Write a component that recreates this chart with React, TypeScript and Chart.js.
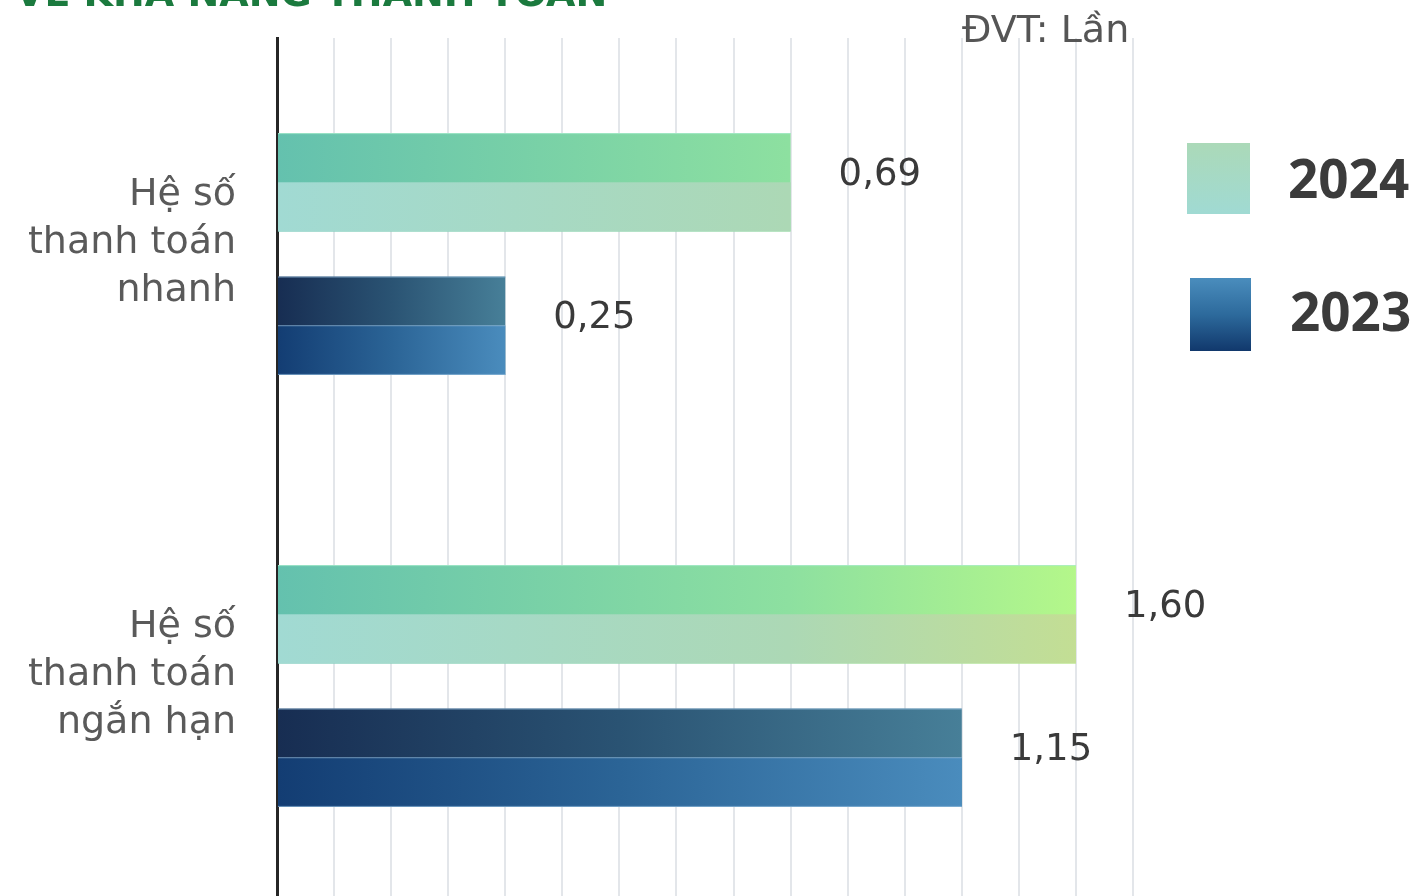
import React, { useEffect, useRef } from "react";
import { Chart, registerables } from "chart.js";

Chart.register(...registerables);

// ---- data ----
const categories: string[][] = [
  ["Hệ số", "thanh toán", "nhanh"],
  ["Hệ số", "thanh toán", "ngắn hạn"],
];
const seriesNames = ["2024", "2023"];
const values2024 = [0.69, 1.6];
const values2023 = [0.25, 1.15];
// bar lengths as drawn in the infographic (grid units – the picture is not to scale)
const barLength2024 = [9, 14];
const barLength2023 = [4, 12];
const gridMax = 15;
const unitLabel = "ĐVT: Lần";
const titleText = "VỀ KHẢ NĂNG THANH TOÁN";

// ---- styles ----
const top2024Stops: [number, string][] = [[0, "#64c1ae"], [0.64, "#8de0a0"], [1, "#b4f78a"]];
const bottom2024Stops: [number, string][] = [[0, "#a1dad3"], [0.64, "#acd8b5"], [1, "#c3de94"]];
const top2023Stops: [number, string][] = [[0, "#172d52"], [0.5, "#2a5373"], [1, "#477f98"]];
const bottom2023Stops: [number, string][] = [[0, "#133d73"], [0.5, "#2b6496"], [1, "#4a8cbd"]];

const FONT = "'DejaVu Sans', sans-serif";

function fmt(v: number) {
  return v.toFixed(2).replace(".", ",");
}

function grad(ctx: CanvasRenderingContext2D, x0: number, x1: number, stops: [number, string][]) {
  const g = ctx.createLinearGradient(x0, 0, x1 === x0 ? x0 + 1 : x1, 0);
  stops.forEach(([o, c]) => g.addColorStop(o, c));
  return g;
}

export default function App() {
  const ref = useRef<HTMLCanvasElement | null>(null);

  useEffect(() => {
    if (!ref.current) return;
    const valueSets = [values2024, values2023];

    const topColor = (di: number) => (c: any) => {
      const chart = c.chart;
      const xs = chart.scales?.x;
      if (!chart.chartArea || !xs || c.raw === undefined) return di === 0 ? "#7fd3a6" : "#2a5373";
      const x0 = xs.getPixelForValue(0);
      if (di === 0) {
        return grad(chart.ctx, x0, xs.getPixelForValue(Math.max(...barLength2024)), top2024Stops);
      }
      return grad(chart.ctx, x0, xs.getPixelForValue(c.raw), top2023Stops);
    };

    const splitPlugin = {
      id: "splitBars",
      afterDatasetsDraw(chart: any) {
        const ctx: CanvasRenderingContext2D = chart.ctx;
        const xs = chart.scales.x;
        chart.data.datasets.forEach((ds: any, di: number) => {
          const meta = chart.getDatasetMeta(di);
          meta.data.forEach((bar: any, i: number) => {
            const { x, y, base, height } = bar.getProps(["x", "y", "base", "height"], true);
            const left = Math.min(base, x);
            const w = Math.abs(x - base);
            const g =
              di === 0
                ? grad(ctx, xs.getPixelForValue(0), xs.getPixelForValue(Math.max(...barLength2024)), bottom2024Stops)
                : grad(ctx, base, x, bottom2023Stops);
            ctx.save();
            ctx.fillStyle = g;
            ctx.fillRect(left, y, w, height / 2);
            if (di === 1) {
              ctx.fillStyle = "rgba(150,190,222,0.7)";
              ctx.fillRect(left, y - 0.5, w, 1);
              ctx.fillRect(left, y - height / 2, w, 1);
              ctx.fillRect(left, y + height / 2 - 1, w, 1);
            } else {
              ctx.fillStyle = "rgba(170,235,205,0.8)";
              ctx.fillRect(left, y - height / 2, w, 1);
            }
            // value label
            ctx.fillStyle = "#3a3a3a";
            ctx.font = `37px ${FONT}`;
            ctx.textAlign = "left";
            ctx.textBaseline = "middle";
            ctx.fillText(fmt(valueSets[di][i]), x + 48, y - 7);
            ctx.restore();
          });
        });
      },
    };

    const chart = new Chart(ref.current, {
      type: "bar",
      data: {
        labels: categories,
        datasets: [
          {
            label: seriesNames[0],
            data: barLength2024,
            backgroundColor: topColor(0),
            borderWidth: 0,
            categoryPercentage: 0.664,
            barPercentage: 0.686,
          },
          {
            label: seriesNames[1],
            data: barLength2023,
            backgroundColor: topColor(1),
            borderWidth: 0,
            categoryPercentage: 0.664,
            barPercentage: 0.686,
          },
        ],
      },
      options: {
        indexAxis: "y",
        animation: false,
        responsive: false,
        maintainAspectRatio: false,
        layout: { padding: { left: 0, right: 286, top: 38, bottom: 0 } },
        scales: {
          x: {
            min: 0,
            max: gridMax,
            ticks: { display: false, stepSize: 1 },
            grid: { color: "#e3e6ea", lineWidth: 2, drawTicks: false },
            border: { display: false },
            afterFit: (s: any) => {
              s.height = 0;
              s.paddingLeft = 0;
              s.paddingRight = 0;
            },
          },
          y: {
            ticks: {
              font: { family: FONT, size: 38, lineHeight: 1.26 },
              color: "#5a5a5a",
              padding: 41,
              labelOffset: -11,
            },
            grid: { drawOnChartArea: false, drawTicks: false },
            border: { color: "#262626", width: 3 },
            afterFit: (s: any) => {
              s.width = 277;
              s.paddingTop = 0;
              s.paddingBottom = 0;
            },
          },
        },
        plugins: {
          legend: { display: false },
          tooltip: { enabled: false },
        },
      },
      plugins: [splitPlugin],
    });
    return () => chart.destroy();
  }, []);

  const legendItems = [
    { name: seriesNames[0], top: 143, left: 1187, w: 63, h: 71, bg: "linear-gradient(#abd9b8, #a0dad3)", textTop: 171, textLeft: 1288 },
    { name: seriesNames[1], top: 278, left: 1190, w: 61, h: 73, bg: "linear-gradient(#4a8dbd, #2d6a9c 50%, #11386c)", textTop: 304, textLeft: 1290 },
  ];

  return (
    <div style={{ position: "fixed", left: 0, top: 0, width: 1419, height: 896, overflow: "hidden", background: "#fff" }}>
      <canvas ref={ref} width={1419} height={902} style={{ position: "absolute", left: 0, top: 0, width: 1419, height: 902 }} />
      <div
        style={{
          position: "absolute",
          left: 15,
          top: -27,
          font: `bold 38px ${FONT}`,
          lineHeight: "40px",
          color: "#1b7a3e",
          whiteSpace: "nowrap",
        }}
      >
        {titleText}
      </div>
      <div
        style={{
          position: "absolute",
          left: 962,
          top: 7,
          font: `38px ${FONT}`,
          lineHeight: "44px",
          color: "#555",
          whiteSpace: "nowrap",
        }}
      >
        {unitLabel}
      </div>
      {legendItems.map((it) => (
        <React.Fragment key={it.name}>
          <div style={{ position: "absolute", left: it.left, top: it.top, width: it.w, height: it.h, background: it.bg }} />
          <div
            style={{
              position: "absolute",
              left: it.textLeft,
              top: it.textTop - 30,
              height: 60,
              lineHeight: "60px",
              font: `bold 53px 'Open Sans', ${FONT}`,
              color: "#3b3b3b",
              whiteSpace: "nowrap",
            }}
          >
            {it.name}
          </div>
        </React.Fragment>
      ))}
    </div>
  );
}
